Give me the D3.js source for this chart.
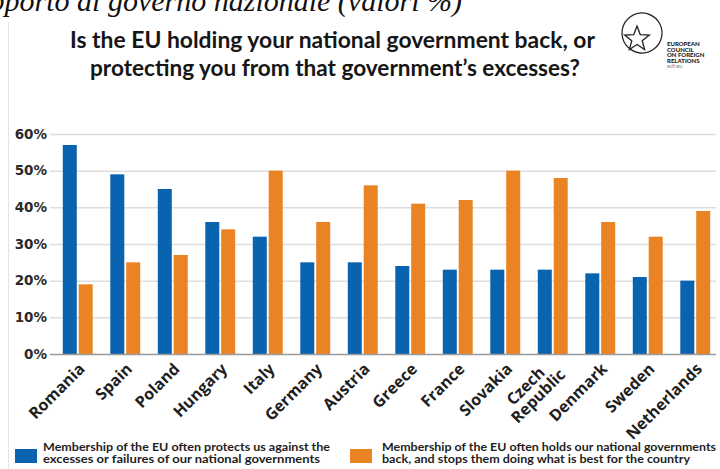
<!DOCTYPE html>
<html>
<head>
<meta charset="utf-8">
<script src="https://cdn.jsdelivr.net/npm/d3@7"></script>
<style>
  html, body { margin: 0; padding: 0; background: #ffffff; }
  svg { display: block; }
</style>
</head>
<body>
<svg id="chart" width="720" height="469"></svg>
<script>
// ---- data ----
const countries = ["Romania","Spain","Poland","Hungary","Italy","Germany","Austria","Greece","France","Slovakia","Czech Republic","Denmark","Sweden","Netherlands"];
const protects = [57, 49, 45, 36, 32, 25, 25, 24, 23, 23, 23, 22, 21, 20];
const holdsBack = [19, 25, 27, 34, 50, 36, 46, 41, 42, 50, 48, 36, 32, 39];
const yTicks = [0, 10, 20, 30, 40, 50, 60];
const seriesNames = [
  ["Membership of the EU often protects us against the", "excesses or failures of our national governments"],
  ["Membership of the EU often holds our national governments", "back, and stops them doing what is best for the country"]
];
const titleLines = ["Is the EU holding your national government back, or", "protecting you from that government\u2019s excesses?"];
const topCaption = "rapporto al governo nazionale (valori %)";
const logoLines = ["EUROPEAN", "COUNCIL", "ON FOREIGN", "RELATIONS"];
const logoUrl = "ecfr.eu";

const colors = ["#0a63ae", "#ea8323"];

const svg = d3.select("#chart");
const FONT = "Lato, 'Open Sans', sans-serif";
const WIDE = "'DejaVu Sans', Verdana, sans-serif";
const LABEL = "'Open Sans', 'DejaVu Sans', sans-serif";

// top cropped caption
svg.append("text")
  .attr("x", 462).attr("y", 11)
  .attr("text-anchor", "end")
  .attr("font-family", "'Liberation Serif', 'DejaVu Serif', serif")
  .attr("font-style", "italic")
  .attr("font-size", 30)
  .attr("fill", "#111")
  .text(topCaption);

// faint frame line at left
svg.append("line")
  .attr("x1", 8.5).attr("x2", 8.5).attr("y1", 22).attr("y2", 469)
  .attr("stroke", "#e4e4e4").attr("stroke-width", 1);

// title
const titleG = svg.append("g");
titleG.append("text")
  .attr("x", 70).attr("y", 48)
  .attr("textLength", 525).attr("lengthAdjust", "spacingAndGlyphs")
  .attr("font-family", FONT).attr("font-weight", 700).attr("font-size", 23)
  .attr("fill", "#161616")
  .text(titleLines[0]);
titleG.append("text")
  .attr("x", 90).attr("y", 76)
  .attr("textLength", 490).attr("lengthAdjust", "spacingAndGlyphs")
  .attr("font-family", FONT).attr("font-weight", 700).attr("font-size", 23)
  .attr("fill", "#161616")
  .text(titleLines[1]);

// logo
const logo = svg.append("g");
const cx = 642, cy = 33, r = 20;
logo.append("path")
  .attr("d", d3.arc()({innerRadius: r - 0.6, outerRadius: r + 0.6, startAngle: -2.6, endAngle: 3.9}))
  .attr("transform", `translate(${cx},${cy})`)
  .attr("fill", "#222");
const starPts = [];
for (let i = 0; i < 10; i++) {
  const rr = i % 2 === 0 ? 13 : 5.5;
  const a = -Math.PI / 2 + i * Math.PI / 5;
  starPts.push([cx - 5 + rr * Math.cos(a), cy + 6 + rr * Math.sin(a)]);
}
logo.append("polygon")
  .attr("points", starPts.map(p => p.join(",")).join(" "))
  .attr("fill", "#fff").attr("stroke", "#222").attr("stroke-width", 1.3);
logo.selectAll("text.logo").data(logoLines).join("text")
  .attr("class", "logo")
  .attr("x", 667).attr("y", (d, i) => 46 + i * 5.6)
  .attr("font-family", FONT).attr("font-weight", 900).attr("font-size", 6)
  .attr("fill", "#222")
  .text(d => d);
logo.append("text")
  .attr("x", 667).attr("y", 68)
  .attr("font-family", FONT).attr("font-size", 5).attr("fill", "#777")
  .text(logoUrl);

// scales
const x0 = d3.scaleBand().domain(countries).range([54, 719]).paddingInner(0.37).paddingOuter(0.185);
const x1 = d3.scaleBand().domain([0, 1]).range([0, x0.bandwidth()]).paddingInner(0.12);
const y = d3.scaleLinear().domain([0, 60]).range([354, 134]);

// gridlines
svg.append("g").selectAll("line").data(yTicks.filter(t => t > 0)).join("line")
  .attr("x1", 50).attr("x2", 716)
  .attr("y1", d => y(d) + 0.5).attr("y2", d => y(d) + 0.5)
  .attr("stroke", "#dedede").attr("stroke-width", 1.5);

// y axis labels
const yAxis = d3.axisLeft(y).tickValues(yTicks).tickFormat(d => d + "%").tickSize(0).tickPadding(0);
const yg = svg.append("g").attr("transform", "translate(47,0)").call(yAxis);
yg.select(".domain").remove();
yg.selectAll("text")
  .attr("font-family", WIDE).attr("font-weight", 700).attr("font-size", 13.5)
  .attr("fill", "#2a2a2a");

// bars
const groups = svg.append("g").selectAll("g").data(countries).join("g")
  .attr("transform", d => `translate(${x0(d)},0)`);
groups.selectAll("rect")
  .data((d, i) => [protects[i], holdsBack[i]])
  .join("rect")
  .attr("x", (d, j) => x1(j))
  .attr("width", x1.bandwidth())
  .attr("y", d => y(d))
  .attr("height", d => y(0) - y(d))
  .attr("fill", (d, j) => colors[j]);

// baseline
svg.append("line")
  .attr("x1", 50).attr("x2", 716).attr("y1", y(0) + 0.5).attr("y2", y(0) + 0.5)
  .attr("stroke", "#9a9a9a").attr("stroke-width", 1.5);

// x labels (rotated)
const xAxis = d3.axisBottom(x0).tickSize(0).tickFormat("");
const xg = svg.append("g").attr("transform", `translate(0,${y(0)})`).call(xAxis);
xg.select(".domain").remove();
xg.selectAll(".tick").each(function(d) {
  const t = d3.select(this);
  const lbl = t.append("text")
    .attr("transform", "translate(4,12) rotate(-45)")
    .attr("text-anchor", "end")
    .attr("font-family", LABEL).attr("font-weight", 700).attr("font-size", 16)
    .attr("fill", "#1e1e1e");
  const parts = d.split(" ");
  if (parts.length === 1) {
    lbl.append("tspan").attr("x", 0).attr("y", 0).attr("dy", "0.35em").text(d);
  } else {
    lbl.append("tspan").attr("x", -13).attr("y", -8).attr("dy", "0.35em").text(parts[0]);
    lbl.append("tspan").attr("x", 0).attr("y", 8).attr("dy", "0.35em").text(parts[1]);
  }
});

// legend
const legend = [
  {x: 15, tx: 43, w: [287, 277]},
  {x: 350, tx: 382, w: [334, 308]}
];
legend.forEach((l, i) => {
  svg.append("rect").attr("x", l.x).attr("y", 449).attr("width", 22).attr("height", 14).attr("fill", colors[i]);
  seriesNames[i].forEach((line, k) => {
    svg.append("text")
      .attr("x", l.tx).attr("y", 451 + k * 12)
      .attr("textLength", l.w[k]).attr("lengthAdjust", "spacingAndGlyphs")
      .attr("font-family", FONT).attr("font-weight", 700).attr("font-size", 11)
      .attr("fill", "#1e1e1e")
      .text(line);
  });
});
</script>
</body>
</html>
